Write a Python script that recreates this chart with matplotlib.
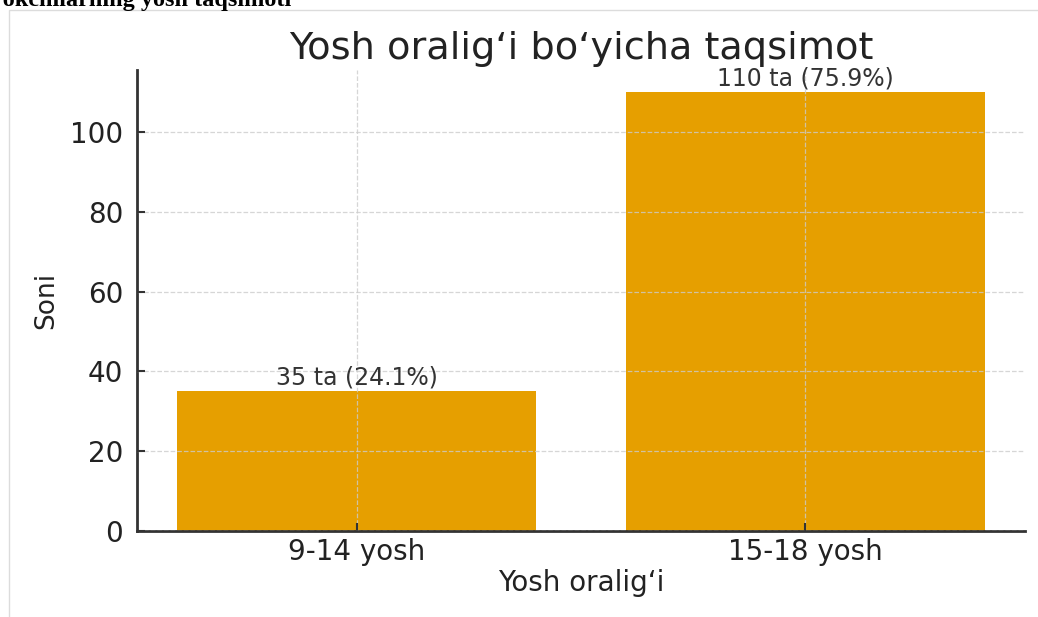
import matplotlib.pyplot as plt
from matplotlib.patches import Rectangle

# Data
categories = ['9-14 yosh', '15-18 yosh']
counts = [35, 110]
percents = [24.1, 75.9]
yticks = [0, 20, 40, 60, 80, 100]

# Figure
fig = plt.figure(figsize=(10.38, 6.17), dpi=100)
ax = fig.add_axes([137 / 1038, 1 - 531 / 617, (1025 - 137) / 1038, (531 - 70) / 617])

# Cropped page heading and frame around the image
fig.text(-0.053, 1 - 6 / 617, "Ishtirokchilarning yosh taqsimoti",
         family='Liberation Serif', fontweight='bold', fontsize=17.5,
         va='baseline', ha='left')
fig.patches.append(Rectangle((9 / 1038, -0.01), 1.1, 1 - 10 / 617 + 0.01,
                             transform=fig.transFigure, fill=False,
                             edgecolor='#dcdcdc', linewidth=1))

# Bars
x = list(range(len(categories)))
ax.bar(x, counts, width=0.8, color='#E69F00', zorder=1)
for xi, c, p in zip(x, counts, percents):
    ax.text(xi, c + 0.4, f"{c} ta ({p}%)", ha='center', va='bottom',
            fontsize=17, color='#333333')

ax.set_xticks(x)
ax.set_xticklabels(categories)
ax.set_yticks(yticks)
ax.set_xlim(-0.49, 1.49)
ax.set_ylim(0, 115.5)

ax.grid(True, linestyle='--', color='#cccccc', linewidth=0.9, alpha=0.8, zorder=2)
ax.set_axisbelow(False)

for s in ['top', 'right']:
    ax.spines[s].set_visible(False)
for s in ['left', 'bottom']:
    ax.spines[s].set_color('#333333')
    ax.spines[s].set_linewidth(2)

ax.tick_params(axis='both', labelsize=20, colors='#333333', labelcolor='#222222',
               length=6, width=1.5, direction='in', pad=5)
ax.tick_params(axis='y', pad=10)
ax.set_xlabel("Yosh oralig‘i", fontsize=20, color='#222222', labelpad=2)
ax.set_ylabel("Soni", fontsize=19, color='#222222', labelpad=8)
ax.set_title("Yosh oralig‘i bo‘yicha taqsimot", fontsize=27.5, color='#222222', pad=8)

plt.savefig("out.png", dpi=100, facecolor='white')
